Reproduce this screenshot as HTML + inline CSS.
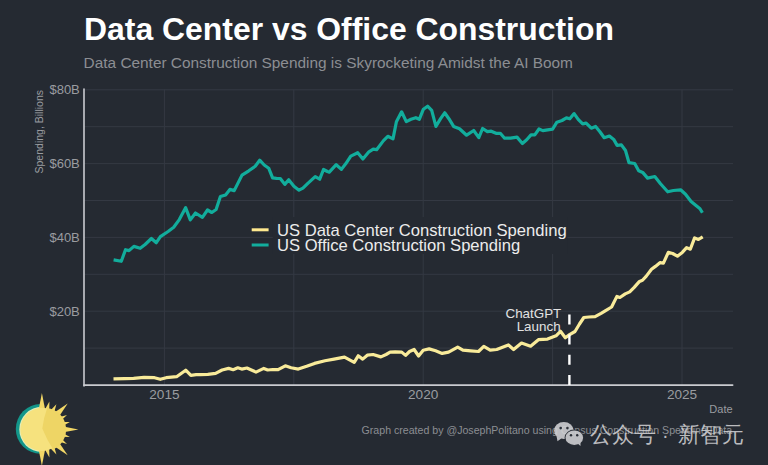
<!DOCTYPE html>
<html><head><meta charset="utf-8"><style>
html,body{margin:0;padding:0;background:#252A32;}
body{width:768px;height:465px;overflow:hidden;position:relative;}
svg{display:block;position:absolute;left:0;top:0;}
text{font-family:"Liberation Sans",Arial,sans-serif;}
</style></head><body>
<svg width="768" height="465" viewBox="0 0 768 465">
<rect width="768" height="465" fill="#252A32"/>
<text x="84.1" y="39.7" font-size="31.9" font-weight="bold" fill="#ffffff">Data Center vs Office Construction</text>
<text x="83.6" y="68.4" font-size="15.4" fill="#8c8e93">Data Center Construction Spending is Skyrocketing Amidst the AI Boom</text>
<g stroke="#343943" stroke-width="1"><line x1="84" x2="733" y1="348.10" y2="348.10"/><line x1="84" x2="733" y1="311.20" y2="311.20"/><line x1="84" x2="733" y1="274.30" y2="274.30"/><line x1="84" x2="733" y1="237.40" y2="237.40"/><line x1="84" x2="733" y1="200.50" y2="200.50"/><line x1="84" x2="733" y1="163.60" y2="163.60"/><line x1="84" x2="733" y1="126.70" y2="126.70"/><line x1="84" x2="733" y1="89.80" y2="89.80"/><line x1="164.40" x2="164.40" y1="89.5" y2="385"/><line x1="293.80" x2="293.80" y1="89.5" y2="385"/><line x1="423.20" x2="423.20" y1="89.5" y2="385"/><line x1="552.60" x2="552.60" y1="89.5" y2="385"/><line x1="682.00" x2="682.00" y1="89.5" y2="385"/></g>
<g font-size="13" fill="#9a9ca0"><text x="79.8" y="315.80" text-anchor="end">$20B</text><text x="79.8" y="242.00" text-anchor="end">$40B</text><text x="79.8" y="168.20" text-anchor="end">$60B</text><text x="79.8" y="94.40" text-anchor="end">$80B</text></g>
<g font-size="13.6" fill="#9a9ca0"><text x="164.40" y="398.8" text-anchor="middle">2015</text><text x="423.20" y="398.8" text-anchor="middle">2020</text><text x="682.00" y="398.8" text-anchor="middle">2025</text></g>
<text x="732.6" y="412.5" font-size="11" fill="#9a9ca0" text-anchor="end">Date</text>
<text transform="translate(43.2,90) rotate(-90)" font-size="10.5" fill="#9a9ca0" text-anchor="end">Spending, Billions</text>
<line x1="84" x2="84" y1="89" y2="386" stroke="#cacbd0" stroke-width="1.6" stroke-linecap="round"/>
<line x1="84" x2="732.6" y1="385.1" y2="385.1" stroke="#cacbd0" stroke-width="1.8" stroke-linecap="round"/>
<polyline points="113.6,259.9 121.3,261.3 125.5,249.7 129.0,250.6 133.9,246.4 140.2,248.3 145.1,244.5 151.4,238.5 156.3,242.7 160.4,236.6 168.1,231.5 173.7,227.3 179.3,219.6 185.6,207.7 190.3,219.9 195.5,213.0 202.4,217.3 207.5,210.0 211.8,212.5 216.1,209.5 220.4,196.6 225.6,194.9 229.9,189.4 234.2,190.6 242.0,175.1 248.8,170.8 255.2,166.3 259.7,160.2 264.2,165.0 268.7,168.2 272.6,177.9 276.5,178.3 280.3,178.5 284.8,184.4 288.7,179.8 293.9,186.3 299.0,190.2 302.9,188.2 308.1,183.1 315.2,176.6 319.7,179.2 323.5,169.5 327.4,171.5 329.3,172.1 336.2,164.7 341.4,169.4 345.7,163.8 350.8,156.1 357.7,152.7 362.9,159.0 368.9,151.8 373.2,149.2 376.6,149.7 383.5,140.6 387.8,136.3 393.0,138.9 396.4,121.7 401.6,111.8 406.3,121.6 411.0,119.3 415.8,117.7 419.3,119.3 423.4,109.2 427.6,106.2 431.7,110.4 435.9,126.4 440.6,118.7 444.7,112.8 448.9,118.7 453.6,126.4 459.5,128.7 466.6,135.2 473.7,130.5 478.8,137.6 482.6,128.5 487.4,131.7 491.2,131.2 496.0,133.3 500.3,133.3 504.6,138.2 510.6,138.2 517.0,137.1 522.4,143.5 526.7,139.8 531.0,134.9 534.8,134.9 539.0,129.0 542.8,130.6 549.3,129.6 552.6,129.1 556.9,122.2 562.0,120.5 566.4,117.9 569.8,118.8 574.1,113.6 578.4,119.6 582.7,123.9 586.1,123.1 591.3,128.2 595.6,126.5 599.9,131.7 604.2,137.7 609.4,136.0 613.7,139.4 617.1,145.4 621.4,144.9 625.5,150.5 629.0,162.7 634.7,163.5 638.7,170.8 642.7,172.4 647.6,178.1 654.8,176.5 660.5,183.7 667.7,191.8 673.4,190.5 680.6,189.8 685.5,194.2 691.1,201.5 696.0,205.5 700.0,208.7 702.4,212.7" fill="none" stroke="#12ad9c" stroke-width="3.2" stroke-linejoin="round" stroke-linecap="butt"/>
<polyline points="113.5,378.9 124.5,378.6 133.6,378.4 144.1,377.3 154.5,377.7 160.3,379.3 166.2,377.7 176.6,376.7 185.7,370.2 190.9,375.4 196.1,374.7 200.0,374.7 207.8,374.3 215.6,373.4 222.1,370.0 228.6,368.4 233.2,369.7 237.8,367.8 241.7,369.1 246.9,368.0 250.8,369.7 256.0,372.1 263.8,368.4 267.7,370.0 272.9,369.5 278.1,369.7 285.3,365.8 291.1,367.8 298.3,369.1 306.7,366.3 314.5,363.4 325.0,360.8 334.1,359.1 344.5,357.1 354.2,362.3 358.2,355.8 362.7,359.1 367.3,355.2 373.1,354.5 380.9,356.9 386.1,354.5 390.1,352.2 395.2,351.9 401.7,352.1 405.6,355.4 409.5,351.5 414.1,349.5 418.6,356.0 423.2,350.2 429.1,348.9 435.6,350.8 442.1,353.4 448.6,352.1 457.7,347.2 462.9,350.2 470.7,350.8 478.5,351.5 483.8,346.3 490.2,350.1 496.7,349.5 508.4,344.9 513.6,349.5 521.5,343.0 530.6,346.2 538.4,339.7 547.5,339.1 556.0,335.8 560.5,331.3 565.3,337.7 569.6,334.6 575.0,331.5 579.5,324.0 583.8,317.5 589.0,317.0 595.1,316.7 601.1,313.4 605.6,310.7 611.6,307.0 616.9,296.4 619.9,297.5 625.2,293.9 629.7,291.9 634.2,287.4 639.5,281.4 642.5,280.3 646.3,276.1 651.5,269.3 655.4,266.4 660.2,262.6 663.4,263.2 668.3,252.4 672.6,253.5 677.4,256.2 682.3,252.4 686.6,247.6 690.3,249.2 694.6,237.9 698.4,239.5 702.7,236.8" fill="none" stroke="#F9EB9A" stroke-width="3.2" stroke-linejoin="round" stroke-linecap="butt"/>
<line x1="569.4" x2="569.4" y1="385" y2="314.5" stroke="#ffffff" stroke-width="2.4" stroke-dasharray="10 10.2"/>
<g font-size="13.4" fill="#e2e2e2" text-anchor="end"><text x="561.3" y="318.3">ChatGPT</text><text x="560.6" y="331.4">Launch</text></g>
<rect x="272.8" y="217" width="294.5" height="37" fill="#252A32"/>
<line x1="251.7" x2="268.6" y1="229.8" y2="229.8" stroke="#FFE98F" stroke-width="3"/>
<line x1="251.7" x2="268.6" y1="245" y2="245" stroke="#12ad9c" stroke-width="3"/>
<g font-size="16.6" fill="#ececec"><text x="277" y="235.5">US Data Center Construction Spending</text><text x="277" y="250.9">US Office Construction Spending</text></g>
<text x="361.6" y="434.3" font-size="10.6" fill="#8c8e93">Graph created by @JosephPolitano using Census Construction Spending Data</text>
<g>
<clipPath id="lh"><rect x="0" y="380" width="42.5" height="90"/></clipPath>
<g clip-path="url(#lh)">
<circle cx="40.6" cy="428.9" r="24.8" fill="#13968a"/>
<circle cx="41.9" cy="429.4" r="22.6" fill="#e3efbc"/>
</g>
<g fill="#f3d867"><polygon points="45.3,410.4 41.9,392.9 38.5,410.4"/><polygon points="49.2,411.7 49.4,401.4 44.4,410.4"/><polygon points="53.6,414.2 56.4,404.3 49.2,411.7"/><polygon points="57.7,418.4 67.7,403.6 52.9,413.6"/><polygon points="59.6,422.1 67.0,414.9 57.1,417.7"/><polygon points="60.9,426.9 69.9,421.9 59.6,422.1"/><polygon points="60.9,432.8 78.4,429.4 60.9,426.0"/><polygon points="59.6,436.7 69.9,436.9 60.9,431.9"/><polygon points="57.1,441.1 67.0,443.9 59.6,436.7"/><polygon points="52.9,445.2 67.7,455.2 57.7,440.4"/><polygon points="49.2,447.1 56.4,454.5 53.6,444.6"/><polygon points="44.4,448.4 49.4,457.4 49.2,447.1"/><polygon points="38.5,448.4 41.9,465.9 45.3,448.4"/></g>
<circle cx="41.9" cy="429.4" r="21.6" fill="#f6e27e"/>
<path d="M47.2,408 Q43.5,418 42.3,428.5 Q47,440 53.2,449.5 A21.8,21.8 0 0 0 47.2,408 Z" fill="#eed565"/>
</g>
<g opacity="0.88">
<g fill="#d2d3d6">
<ellipse cx="563.8" cy="430.5" rx="9.8" ry="8.4"/>
<path d="M556.5,436 L557.5,441.2 L561.5,438.2 Z"/>
</g>
<g fill="#2a2f37"><circle cx="560.7" cy="428.1" r="1.3"/><circle cx="567.4" cy="428.1" r="1.3"/></g>
<ellipse cx="574.3" cy="437.7" rx="9.7" ry="8.2" fill="#2a2f37"/>
<g fill="#d2d3d6">
<ellipse cx="574.3" cy="437.7" rx="8.8" ry="7.3"/>
<path d="M577,443 L580.5,446 L580.5,441.5 Z"/>
</g>
<g fill="#2a2f37"><circle cx="571" cy="435.3" r="1.2"/><circle cx="577.2" cy="435.3" r="1.2"/></g>
<g font-size="22" fill="#d0d0d2" style="font-family:'Liberation Sans','Noto Sans CJK SC',sans-serif">
<text x="589.6" y="442.2">公众号</text>
<text x="662" y="442.2" font-size="20">·</text>
<text x="677.9" y="442.2">新智元</text>
</g>
</g>
</svg>
</body></html>
